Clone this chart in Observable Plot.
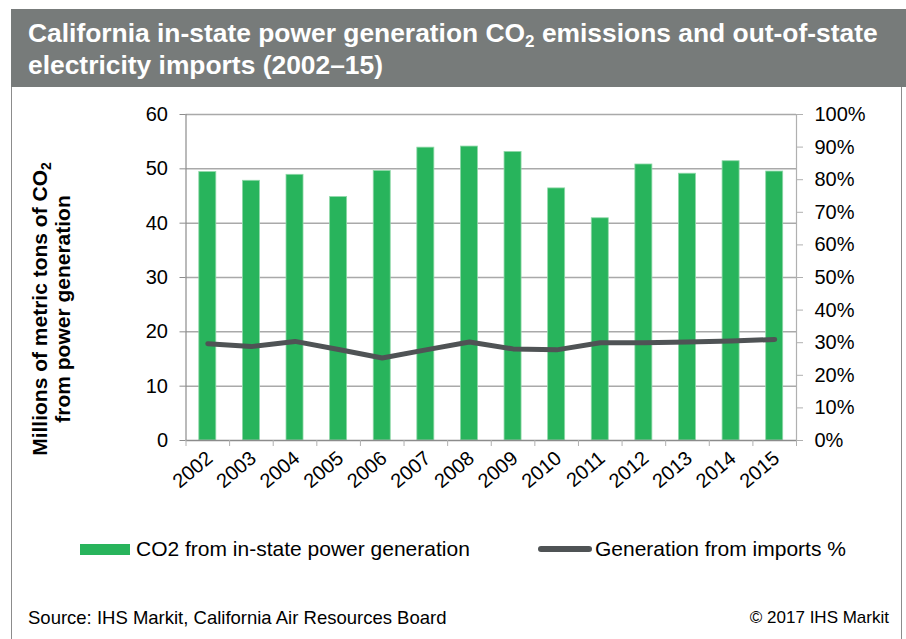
<!DOCTYPE html>
<html>
<head>
<meta charset="utf-8">
<script src="https://cdn.jsdelivr.net/npm/d3@7"></script>
<script src="https://cdn.jsdelivr.net/npm/@observablehq/plot@0.6"></script>
<style>
  html, body { margin: 0; padding: 0; background: #fff; }
  body { width: 906px; height: 639px; position: relative; overflow: hidden;
         font-family: "Liberation Sans", Arial, sans-serif; color: #000; }
  #banner { position: absolute; left: 11px; top: 9px; width: 895px; height: 78px;
            background: #777b7a; color: #fff; font-weight: bold; font-size: 26.4px;
            line-height: 32px; box-sizing: border-box; padding: 8px 0 0 17px; white-space: nowrap; }
  #banner sub { font-size: 17px; line-height: 0; vertical-align: -5px; }
  .border { position: absolute; background: #8c8c8c; }
  #chart { position: absolute; left: 0; top: 88px; }
  #ylabel { position: absolute; left: 51px; top: 309px; width: 380px;
            transform: translate(-50%, -50%) rotate(-90deg);
            text-align: center; font-weight: bold; font-size: 21px; line-height: 23px; white-space: nowrap; }
  #ylabel sub { font-size: 14px; line-height: 0; vertical-align: -4px; }
  .leg { position: absolute; top: 537px; font-size: 21px; line-height: 24px; white-space: nowrap; }
  .sw { position: absolute; }
  .foot { position: absolute; top: 607px; font-size: 18.5px; line-height: 22px; white-space: nowrap; }
</style>
</head>
<body>
<div id="banner">California in-state power generation CO<sub>2</sub> emissions and out-of-state<br>electricity imports (2002–15)</div>
<div class="border" style="left:11px;top:87px;width:1px;height:552px;"></div>
<div class="border" style="left:901px;top:87px;width:1px;height:552px;"></div>
<div id="chart"></div>
<div id="ylabel">Millions of metric tons of CO<sub>2</sub><br>from power generation</div>
<div class="sw" style="left:80px;top:544px;width:50px;height:11px;background:#28b45c;"></div>
<div class="leg" style="left:136px;">CO2 from in-state power generation</div>
<div class="sw" style="left:538px;top:546px;width:54px;height:6px;border-radius:3px;background:#4f5355;"></div>
<div class="leg" style="left:595px;">Generation from imports %</div>
<div class="foot" style="left:28px;">Source: IHS Markit, California Air Resources Board</div>
<div class="foot" style="right:17px;font-size:17px;">© 2017 IHS Markit</div>
<script>
const years = [2002, 2003, 2004, 2005, 2006, 2007, 2008, 2009, 2010, 2011, 2012, 2013, 2014, 2015];
const co2 = [49.4, 47.8, 48.9, 44.8, 49.6, 53.9, 54.1, 53.1, 46.4, 40.9, 50.8, 49.1, 51.4, 49.5];
const importsPct = [29.7, 28.8, 30.4, 27.9, 25.3, 27.8, 30.2, 28.1, 27.8, 30.0, 30.0, 30.2, 30.5, 31.0];
const leftTicks = [0, 10, 20, 30, 40, 50, 60];
const rightTicks = [0, 10, 20, 30, 40, 50, 60, 70, 80, 90, 100];

const leftMax = 60, rightMax = 100;
const k = leftMax / rightMax; // percent -> left-axis units
const data = years.map((year, i) => ({year, co2: co2[i], imp: importsPct[i]}));
const half = 0.195;
const xDomain = [years[0] - 0.5, years[years.length - 1] + 0.5];
const bounds = [...years.map(y => y - 0.5), years[years.length - 1] + 0.5];

const chart = Plot.plot({
  width: 906,
  height: 410,
  marginLeft: 185.5,
  marginRight: 110,
  marginTop: 26,
  marginBottom: 58,
  style: {fontFamily: '"Liberation Sans", Arial, sans-serif', fontSize: "20px", color: "#000", background: "transparent", overflow: "visible"},
  x: {domain: xDomain, axis: null},
  y: {domain: [0, leftMax], axis: null},
  marks: [
    Plot.ruleY(leftTicks.filter(d => d > 0), {stroke: "#a9a9a9", strokeWidth: 1.5}),
    Plot.rectY(data, {x1: d => d.year - half, x2: d => d.year + half, y1: 0, y2: "co2", fill: "#28b45c", stroke: "#8fd8a8", strokeWidth: 0.8}),
    Plot.ruleY([0], {stroke: "#8c8c8c", strokeWidth: 1.5}),
    Plot.ruleX([xDomain[0]], {stroke: "#8c8c8c", strokeWidth: 1.2, y1: 0, y2: leftMax}),
    Plot.ruleX([xDomain[1]], {stroke: "#b0b0b0", strokeWidth: 1.2, y1: 0, y2: leftMax}),
    Plot.line(data, {x: "year", y: d => d.imp * k, stroke: "#4f5355", strokeWidth: 5, strokeLinecap: "round", strokeLinejoin: "round"}),
    Plot.axisY({anchor: "left", label: null, ticks: leftTicks, tickSize: 6, tickPadding: 12, stroke: "#8c8c8c", fill: "#000"}),
    Plot.axisY({anchor: "right", label: null, ticks: rightTicks.map(d => d * k), tickFormat: d => Math.round(d / k) + "%", tickSize: 6, tickPadding: 12, stroke: "#b0b0b0", fill: "#000"}),
    Plot.axisX({label: null, ticks: bounds, tickFormat: () => "", tickSize: 6, stroke: "#b0b0b0"}),
    Plot.axisX({label: null, ticks: years, tickFormat: d => String(d), tickSize: 0, tickPadding: 15, tickRotate: -40, dx: 2, fill: "#000"})
  ]
});
document.getElementById("chart").appendChild(chart);
</script>
</body>
</html>
